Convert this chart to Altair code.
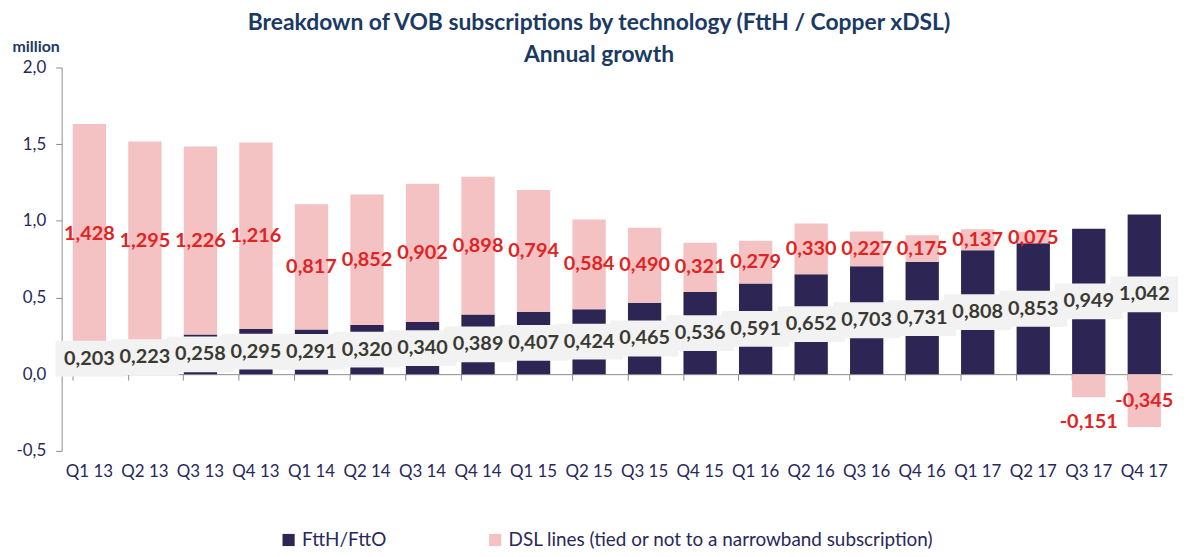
import altair as alt
import pandas as pd

quarters = ["Q1 13", "Q2 13", "Q3 13", "Q4 13", "Q1 14", "Q2 14", "Q3 14", "Q4 14",
            "Q1 15", "Q2 15", "Q3 15", "Q4 15", "Q1 16", "Q2 16", "Q3 16", "Q4 16",
            "Q1 17", "Q2 17", "Q3 17", "Q4 17"]
ftth = [0.203, 0.223, 0.258, 0.295, 0.291, 0.320, 0.340, 0.389, 0.407, 0.424,
        0.465, 0.536, 0.591, 0.652, 0.703, 0.731, 0.808, 0.853, 0.949, 1.042]
dsl = [1.428, 1.295, 1.226, 1.216, 0.817, 0.852, 0.902, 0.898, 0.794, 0.584,
       0.490, 0.321, 0.279, 0.330, 0.227, 0.175, 0.137, 0.075, -0.151, -0.345]

S1 = "FttH/FttO"
S2 = "DSL lines (tied or not to a narrowband subscription)"

NAVY = "#2d2553"
PINK = "#f4c2c2"
RED = "#e02424"
AXIS_TXT = "#28285a"
TITLE_C = "#1b3a63"
FONT = "Lato"

def fmt(v):
    return f"{v:.3f}".replace(".", ",")

rows = []
for q, a, b in zip(quarters, ftth, dsl):
    rows.append({"quarter": q, "series": S1, "value": a, "ord": 0})
    rows.append({"quarter": q, "series": S2, "value": b, "ord": 1})
bars_df = pd.DataFrame(rows)

lab_rows = []
for q, a, b in zip(quarters, ftth, dsl):
    if b >= 0:
        dy = a + b / 2
    elif abs(b) < 0.2:
        dy = b - 0.16
    else:
        dy = b / 2
    lab_rows.append({"quarter": q, "fy": a / 2, "ftxt": fmt(a), "dy": dy, "dtxt": fmt(b)})
lab_df = pd.DataFrame(lab_rows)

W, H = 1118, 386
yscale = alt.Scale(domain=[-0.5, 2.0], nice=False, zero=False)
xenc = alt.X("quarter:N", sort=quarters, title=None,
             scale=alt.Scale(paddingInner=0.4, paddingOuter=0.2),
             axis=alt.Axis(labelAngle=0, labelFontSize=17, labelColor=AXIS_TXT, labelFont=FONT,
                           domainColor="#8c8c8c", tickColor="#8c8c8c", tickSize=6,
                           bandPosition=0, offset=-(0.5 / 2.5) * H, labelPadding=84,
                           labelOverlap=False))

bars = alt.Chart(bars_df).mark_bar().encode(
    x=xenc,
    y=alt.Y("value:Q", stack="zero", scale=yscale, title="million",
            axis=alt.Axis(values=[-0.5, 0, 0.5, 1.0, 1.5, 2.0], grid=False,
                          labelExpr="replace(replace(format(datum.value, '.1f'), '.', ','), '\u2212', '-')",
                          labelFontSize=17, labelColor=AXIS_TXT, labelFont=FONT,
                          labelPadding=10, tickSize=6, tickColor="#8c8c8c", domainColor="#8c8c8c",
                          titleAngle=0, titleAlign="left", titleBaseline="middle",
                          titleX=-50, titleY=-21, titleFontSize=16, titleFont=FONT,
                          titleFontWeight="bold", titleColor=TITLE_C)),
    color=alt.Color("series:N", sort=[S1, S2],
                    scale=alt.Scale(domain=[S1, S2], range=[NAVY, PINK]),
                    legend=alt.Legend(title=None, orient="none", direction="horizontal",
                                      legendX=219, legendY=466, symbolType="square",
                                      symbolSize=150, labelFontSize=19, labelFont=FONT,
                                      labelColor=AXIS_TXT, columnPadding=100, labelLimit=800,
                                      symbolStrokeWidth=0)),
    order=alt.Order("ord:Q"),
)

boxes = alt.Chart(lab_df).mark_point(
    shape="M-1,-0.53L1,-0.53L1,0.53L-1,0.53Z", size=4624, filled=True,
    color="#f2f2f2", opacity=1
).encode(x=alt.X("quarter:N", sort=quarters), y=alt.Y("fy:Q", scale=yscale))

ftxt = alt.Chart(lab_df).mark_text(
    fontSize=20, fontWeight="bold", font=FONT, color="#3a3a33"
).encode(x=alt.X("quarter:N", sort=quarters), y=alt.Y("fy:Q", scale=yscale), text="ftxt:N")

dtxt = alt.Chart(lab_df).mark_text(
    fontSize=20, fontWeight="bold", font=FONT, color=RED
).encode(x=alt.X("quarter:N", sort=quarters), y=alt.Y("dy:Q", scale=yscale), text="dtxt:N")

chart = alt.layer(bars, boxes, ftxt, dtxt).properties(
    width=W, height=H,
    title=alt.TitleParams(
        text=["Breakdown of VOB subscriptions by technology (FttH / Copper xDSL)", "Annual growth"],
        fontSize=23, font=FONT, fontWeight="bold", color=TITLE_C, lineHeight=33,
        anchor="middle", dx=-18, offset=-29),
    autosize=alt.AutoSizeParams(type="none"),
    padding={"left": 54, "top": 58, "right": 7, "bottom": 105},
).configure_view(stroke=None)

chart.save("out.html", embed_options={"renderer": "svg", "actions": False})
